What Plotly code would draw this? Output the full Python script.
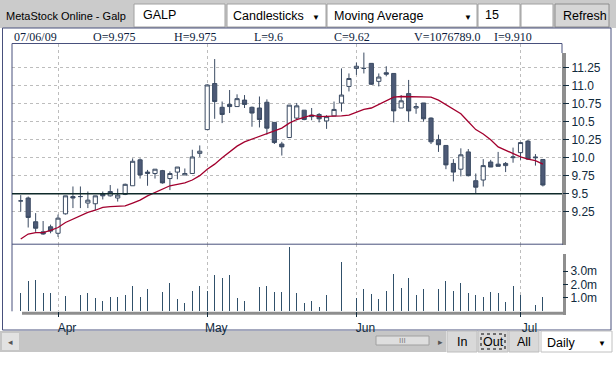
import plotly.graph_objects as go
import pandas as pd

# ---------------- data ----------------
holidays = ["2009-04-10", "2009-04-13", "2009-05-01"]
dates = [d.strftime("%Y-%m-%d") for d in pd.bdate_range("2009-03-25", "2009-07-06") if d.strftime("%Y-%m-%d") not in holidays]

open_ = [9.40, 9.44, 9.11, 8.97, 9.04, 8.95, 9.22, 9.46, 9.46, 9.37,
         9.36, 9.50, 9.47, 9.44, 9.49, 9.61, 9.97, 9.78, 9.78, 9.82,
         9.71, 9.80, 9.76, 9.78, 10.06, 10.39, 11.03, 10.70, 10.74, 10.71,
         10.80, 10.70, 10.69, 10.77, 10.49, 10.19, 10.28, 10.55, 10.66, 10.59,
         10.60, 10.51, 10.58, 10.76, 10.99, 11.24, 11.24, 11.31, 11.06, 11.18,
         11.17, 10.69, 10.89, 10.69, 10.76, 10.55, 10.25, 10.17, 9.92, 9.84,
         10.08, 9.68, 9.69, 9.94, 9.91, 9.89, 10.00, 10.07, 10.23, 10.01,
         9.975]
high = [9.48, 9.46, 9.23, 9.12, 9.07, 9.21, 9.47, 9.60, 9.60, 9.53,
        9.47, 9.53, 9.62, 9.57, 9.64, 9.99, 9.99, 9.83, 9.84, 9.83,
        9.81, 9.87, 9.85, 10.11, 10.17, 11.02, 11.37, 10.78, 10.94, 10.88,
        10.87, 10.71, 10.85, 10.81, 10.49, 10.22, 10.73, 10.76, 10.66, 10.69,
        10.62, 10.59, 10.78, 11.24, 11.17, 11.32, 11.46, 11.31, 11.17, 11.27,
        11.17, 10.87, 11.08, 10.76, 10.76, 10.56, 10.32, 10.17, 9.98, 10.13,
        10.12, 9.78, 9.98, 9.97, 10.08, 9.94, 10.14, 10.22, 10.25, 10.05,
        9.975]
low = [9.25, 9.03, 8.97, 8.93, 8.95, 8.90, 9.21, 9.30, 9.30, 9.30,
       9.27, 9.42, 9.46, 9.39, 9.48, 9.61, 9.71, 9.61, 9.71, 9.64,
       9.55, 9.70, 9.76, 9.78, 10.01, 10.39, 10.54, 10.48, 10.62, 10.71,
       10.69, 10.43, 10.42, 10.32, 10.19, 10.03, 10.28, 10.52, 10.52, 10.52,
       10.49, 10.40, 10.58, 10.64, 10.92, 11.15, 11.17, 11.01, 10.99, 11.13,
       10.49, 10.69, 10.50, 10.61, 10.50, 10.19, 10.08, 9.84, 9.67, 9.74,
       9.74, 9.50, 9.60, 9.87, 9.88, 9.80, 9.93, 9.97, 9.97, 9.89,
       9.60]
close = [9.40, 9.17, 9.02, 8.94, 8.98, 9.16, 9.47, 9.44, 9.46, 9.41,
         9.47, 9.47, 9.53, 9.48, 9.63, 9.95, 9.76, 9.80, 9.84, 9.65,
         9.78, 9.87, 9.78, 10.01, 10.09, 11.01, 10.78, 10.60, 10.71, 10.82,
         10.74, 10.62, 10.53, 10.41, 10.21, 10.15, 10.73, 10.72, 10.53, 10.57,
         10.54, 10.57, 10.67, 10.87, 11.10, 11.27, 11.24, 11.02, 11.12, 11.16,
         10.65, 10.79, 10.65, 10.71, 10.54, 10.22, 10.18, 9.90, 9.80, 10.04,
         9.75, 9.59, 9.89, 9.87, 9.88, 9.92, 10.01, 10.21, 9.98, 10.00,
         9.62]
ma15 = [8.87, 8.94, 8.96, 8.96, 8.99, 9.03, 9.10, 9.15, 9.19, 9.24,
        9.27, 9.31, 9.32, 9.32, 9.33, 9.37, 9.41, 9.47, 9.52, 9.57,
        9.61, 9.63, 9.65, 9.69, 9.75, 9.84, 9.91, 10.00, 10.08, 10.16,
        10.22, 10.26, 10.30, 10.34, 10.38, 10.41, 10.48, 10.53, 10.56, 10.59,
        10.57, 10.57, 10.57, 10.58, 10.59, 10.63, 10.67, 10.69, 10.74, 10.79,
        10.84, 10.85, 10.85, 10.85, 10.85, 10.84, 10.80, 10.74, 10.68, 10.61,
        10.50, 10.39, 10.33, 10.25, 10.15, 10.10, 10.05, 10.01, 9.98, 9.96,
        9.91]
volume_m = [1.37, 2.24, 2.31, 1.37, 1.37, 1.72, 1.12, 1.72, 1.19, 1.37,
            0.97, 0.77, 1.07, 1.07, 1.19, 1.87, 1.07, 1.64, 1.37, 1.42,
            2.11, 0.90, 0.62, 1.49, 1.87, 1.49, 2.69, 2.46, 2.71, 0.97,
            0.77, 1.12, 1.79, 1.87, 1.42, 1.42, 4.78, 1.37, 0.62, 0.75,
            0.32, 1.19, 1.42, 3.66, 3.96, 1.00, 1.64, 1.29, 0.90, 1.49,
            2.76, 1.72, 2.46, 1.22, 1.64, 1.64, 1.64, 2.24, 1.49, 2.09,
            1.37, 1.22, 1.04, 1.42, 1.37, 0.67, 1.87, 1.19, 1.64, 0.45,
            1.077]
volume = [v * 1e6 for v in volume_m]

month_ticks = ["2009-04-01", "2009-05-04", "2009-06-01", "2009-07-01"]
month_labels = ["Apr", "May", "Jun", "Jul"]
price_ticks = [9.25, 9.5, 9.75, 10.0, 10.25, 10.5, 10.75, 11.0, 11.25]
price_labels = ["9.25", "9.5", "9.75", "10.0", "10.25", "10.5", "10.75", "11.0", "11.25"]
vol_ticks = [1e6, 2e6, 3e6]
vol_labels = ["1.0m", "2.0m", "3.0m"]

# ---------------- geometry helpers ----------------
W, H = 616, 384
def X(px): return px / W
def Y(py): return 1 - py / H

SANS = "Liberation Sans, Arial, sans-serif"
SERIF = "Liberation Serif, Times New Roman, serif"
NAVY = "#48507c"
TXT = "#102a3c"
OUTL = "#3b4b63"
FILL = "#4d5a76"

fig = go.Figure()
fig.add_trace(go.Candlestick(
    x=dates, open=open_, high=high, low=low, close=close,
    increasing=dict(line=dict(color=OUTL, width=1), fillcolor="white"),
    decreasing=dict(line=dict(color=OUTL, width=1), fillcolor=FILL),
    whiskerwidth=0, showlegend=False, hoverinfo="skip", xaxis="x", yaxis="y"))
fig.add_trace(go.Scatter(x=dates, y=ma15, mode="lines",
                         line=dict(color="#a3002e", width=1.3),
                         showlegend=False, hoverinfo="skip", xaxis="x", yaxis="y"))
fig.add_trace(go.Bar(x=dates, y=volume, width=0.12,
                     marker=dict(color="#30506a", line=dict(width=0)),
                     showlegend=False, hoverinfo="skip", xaxis="x2", yaxis="y2"))

xdom = [X(12), X(562)]
xr = [-1.17, 72.56]
fig.update_layout(
    width=W, height=H, margin=dict(l=0, r=0, t=0, b=0),
    paper_bgcolor="white", plot_bgcolor="white",
    boxgap=0.2, bargap=0, hovermode=False,
    xaxis=dict(domain=xdom, anchor="y", type="category", range=xr,
               tickvals=month_ticks, ticktext=month_labels, showticklabels=False,
               showgrid=True, griddash="dot", gridcolor="#bdbdbd", gridwidth=1,
               ticks="", showline=False, zeroline=False,
               rangeslider=dict(visible=False), fixedrange=True),
    yaxis=dict(domain=[Y(244), Y(43.5)], anchor="x", side="right",
               range=[8.801, 11.586], tickvals=price_ticks, ticktext=price_labels,
               showgrid=True, griddash="dot", gridcolor="#bdbdbd", gridwidth=1,
               ticks="outside", ticklen=6, tickcolor=TXT, zeroline=False, showline=False,
               tickfont=dict(family=SANS, size=12, color=TXT), fixedrange=True),
    xaxis2=dict(domain=xdom, anchor="y2", type="category", range=xr, matches="x",
                tickvals=month_ticks, ticktext=month_labels,
                showgrid=True, griddash="dot", gridcolor="#bdbdbd", gridwidth=1,
                ticks="outside", ticklen=5, tickcolor=TXT, ticklabelshift=9,
                tickfont=dict(family=SANS, size=12, color=TXT),
                showline=False, zeroline=False, fixedrange=True),
    yaxis2=dict(domain=[Y(311.3), Y(244)], anchor="x2", side="right",
                range=[0, 5.02e6], tickvals=vol_ticks, ticktext=vol_labels,
                showgrid=False, ticks="outside", ticklen=5, tickcolor=TXT,
                zeroline=False, showline=False,
                tickfont=dict(family=SANS, size=12, color=TXT), fixedrange=True),
)

shapes = []
def rect(x0, y0, x1, y1, fill, line=None, lw=1, layer="below", dash=None):
    ln = dict(width=0) if line is None else dict(color=line, width=lw)
    if dash and line:
        ln["dash"] = dash
    shapes.append(dict(type="rect", xref="paper", yref="paper",
                       x0=X(x0), x1=X(x1), y0=Y(y1), y1=Y(y0),
                       fillcolor=fill, line=ln, layer=layer))
def hline(x0, x1, py, color, w=1, layer="above"):
    shapes.append(dict(type="line", xref="paper", yref="paper",
                       x0=X(x0), x1=X(x1), y0=Y(py), y1=Y(py),
                       line=dict(color=color, width=w), layer=layer))
def vline(px, y0, y1, color, w=1, layer="above"):
    shapes.append(dict(type="line", xref="paper", yref="paper",
                       x0=X(px), x1=X(px), y0=Y(y0), y1=Y(y1),
                       line=dict(color=color, width=w), layer=layer))

# top toolbar
rect(0, 0, 616, 28, "#cbcbcb")
rect(134, 4, 225, 27, "white", "#a0a0a0")
rect(227, 4, 326, 27, "white", "#a0a0a0")
rect(327, 4, 477, 27, "white", "#a0a0a0")
rect(478, 4, 520, 27, "white", "#a0a0a0")
rect(521, 4, 553, 27, "white", "#a0a0a0")
rect(555, 4, 609, 27, "#d6d6d6", "#8c8c8c")

# outer chart box
rect(2.5, 28, 611, 330, "white", NAVY)

# gray strips
rect(562, 53, 566, 245, "#8e8e8e")
rect(563, 254, 566, 315, "#8e8e8e")
rect(22, 311.7, 563, 314.7, "#8e8e8e")

# frame lines
hline(12, 562, 43.5, NAVY)
vline(12, 43.5, 311.3, NAVY)
vline(562, 43.5, 53, NAVY)
hline(12, 563, 244.2, NAVY)

# 9.5 reference line (on price scale)
shapes.append(dict(type="line", xref="paper", yref="y", x0=X(12), x1=X(562),
                   y0=9.5, y1=9.5, line=dict(color="#0f2a2a", width=1.5), layer="above"))

# bottom scroll bar + buttons
rect(0, 331, 446, 352, "#c6c6c6")
rect(2, 333, 19, 350, "#e2e2e2")
rect(376, 336, 429, 345, "#dedede", "#a0a0a0")
rect(447, 331, 477, 352, "#d9d9d9", "#bdbdbd")
rect(478, 331, 508, 352, "#d9d9d9", "#bdbdbd")
rect(481, 334, 505, 349, "rgba(0,0,0,0)", "#000000", lw=1, dash="dot")
rect(509, 331, 539, 352, "#d9d9d9", "#bdbdbd")
rect(541, 331, 612, 352, "white", "#c0c0c0")

fig.update_layout(shapes=shapes)

ann = []
def text(s, px, py, size=12, font=SANS, color="#000000", anchor="left"):
    ann.append(dict(text=s, x=X(px), y=Y(py), xref="paper", yref="paper",
                    showarrow=False, xanchor=anchor, yanchor="middle",
                    font=dict(family=font, size=size, color=color)))

text("MetaStock Online - Galp", 4, 16, size=11)
text("GALP", 141, 15, size=12.5)
text("Candlesticks", 231, 16, size=12.5)
text("▼", 316, 17, size=8, anchor="center")
text("Moving Average", 332, 16, size=12.5)
text("▼", 468, 17, size=8, anchor="center")
text("15", 483, 15, size=12.5)
text("Refresh", 561, 16, size=12.5)

info = [("07/06/09", 12), ("O=9.975", 91.5), ("H=9.975", 172), ("L=9.6", 252),
        ("C=9.62", 331.5), ("V=1076789.0", 412), ("I=9.910", 491.5)]
for s, px in info:
    text(s, px, 37, size=12, font=SERIF, color="#0c1c3c")

text("◂", 10.5, 342, size=9, color="#555555", anchor="center")
text("III", 402.5, 340, size=8, color="#808080", anchor="center")
text("▸", 440, 342, size=9, color="#555555", anchor="center")
text("In", 462, 342, size=12.5, anchor="center")
text("Out", 493, 342, size=12.5, anchor="center")
text("All", 524, 342, size=12.5, anchor="center")
text("Daily", 545, 343, size=12.5)
text("▼", 602, 343, size=8, anchor="center")

fig.update_layout(annotations=ann)
fig.write_html("out.html", config={"displayModeBar": False, "staticPlot": True},
               post_script="document.body.style.margin='0';document.body.style.overflow='hidden';")
